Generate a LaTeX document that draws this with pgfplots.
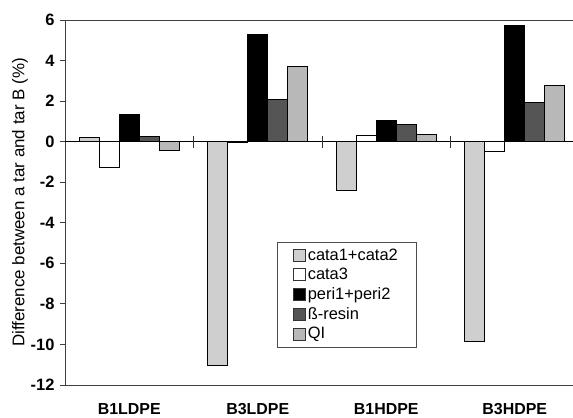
\documentclass[border=0pt]{standalone}
\usepackage{pgfplots}
\pgfplotsset{compat=1.18}
\usepackage{fontspec}
\setmainfont{Liberation Sans}
\definecolor{cA}{HTML}{CFCFCF}
\definecolor{cB}{HTML}{FFFFFF}
\definecolor{cC}{HTML}{000000}
\definecolor{cD}{HTML}{555555}
\definecolor{cE}{HTML}{B8B8B8}
\begin{document}
\begin{tikzpicture}
\begin{axis}[
  scale only axis,
  width=508bp, height=365bp,
  xmin=-0.5, xmax=3.453,
  ymin=-12, ymax=6,
  axis x line*=bottom,
  axis y line*=left,
  axis line style={black!75, line width=0.9bp},
  ybar=0pt,
  bar width=20bp,
  xtick={0,1,2,3},
  xticklabels={B1LDPE,B3LDPE,B1HDPE,B3HDPE},
  x tick style={draw=none},
  xticklabel style={font=\bfseries\fontsize{16}{16}\selectfont, yshift=-10bp},
  ytick={-12,-10,...,6},
  tick align=outside,
  major tick length=5bp,
  y tick style={black!75, line width=0.9bp},
  yticklabel style={font=\bfseries\fontsize{16.5}{16.5}\selectfont, xshift=-2bp},
  /pgf/number format/assume math mode=true,
  ylabel={Difference between a tar and tar B (\%)},
  ylabel style={at={(axis description cs:-0.0886,0.5)}, anchor=center, font=\fontsize{17}{17}\selectfont},
  legend cell align=left,
  legend style={at={(rel axis cs:0.4173,0.392)}, anchor=north west,
    draw=black!70, line width=0.6bp, font=\fontsize{16.5}{16.5}\selectfont,
    inner xsep=16bp, inner ysep=4.5bp, row sep=2.5bp},
  legend image code/.code={\draw[#1, draw=black!80, line width=0.5bp] (0bp,-6bp) rectangle (12bp,6bp);},
  every axis plot/.append style={draw=black, line width=0.8bp},
]
\addplot[fill=cA, bar shift=-40bp] coordinates {(0,0.23) (1,-11.05) (2,-2.42) (3,-9.87)};
\addplot[fill=cB, bar shift=-20bp] coordinates {(0,-1.27) (1,-0.05) (2,0.33) (3,-0.46)};
\addplot[fill=cC, bar shift=0bp] coordinates {(0,1.33) (1,5.3) (2,1.05) (3,5.72)};
\addplot[fill=cD, bar shift=20bp] coordinates {(0,0.24) (1,2.1) (2,0.85) (3,1.94)};
\addplot[fill=cE, bar shift=40bp] coordinates {(0,-0.41) (1,3.71) (2,0.36) (3,2.76)};
\legend{cata1+cata2, cata3, peri1+peri2, ß-resin, QI}
\draw[black, line width=0.8bp] (axis cs:-0.5,0) -- (axis cs:3.453,0);
\draw[black!75, line width=0.9bp] (rel axis cs:0,1) -- (rel axis cs:1,1);
\draw[black!80, line width=0.8bp] ([yshift=-6bp]axis cs:0.5,0) -- ([yshift=6bp]axis cs:0.5,0);
\draw[black!80, line width=0.8bp] ([yshift=-6bp]axis cs:1.5,0) -- ([yshift=6bp]axis cs:1.5,0);
\draw[black!80, line width=0.8bp] ([yshift=-6bp]axis cs:2.5,0) -- ([yshift=6bp]axis cs:2.5,0);
\coordinate (BL) at (rel axis cs:0,0);
\coordinate (TR) at (rel axis cs:1,1);
\end{axis}
\pgfresetboundingbox
\path ([shift={(-65bp,-33bp)}]BL) rectangle ([shift={(0bp,20bp)}]TR);
\end{tikzpicture}
\end{document}
